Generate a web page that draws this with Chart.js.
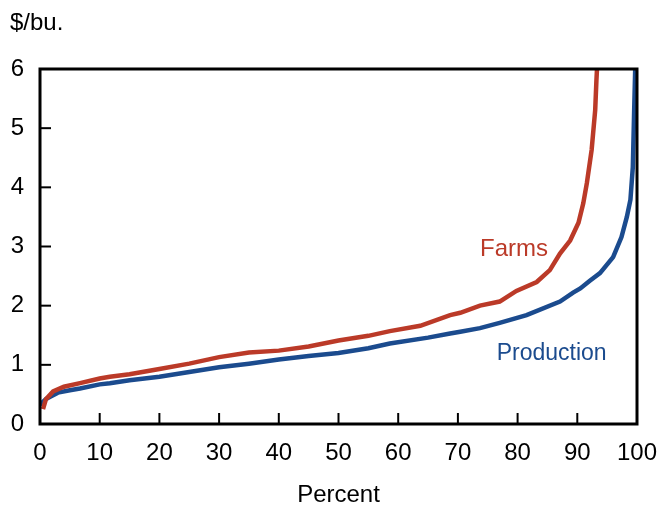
<!DOCTYPE html>
<html>
<head>
<meta charset="utf-8">
<script src="https://cdn.jsdelivr.net/npm/chart.js@4.4.0/dist/chart.umd.min.js"></script>
<style>
  html, body { margin: 0; padding: 0; background: #fff; }
  #wrap { width: 660px; height: 506px; position: relative; }
</style>
</head>
<body>
<div id="wrap"><canvas id="myChart" width="660" height="506"></canvas></div>
<script>
// ---------------- data ---------------- //
var farmsPct = [0.5, 1, 2.2, 4, 6.7, 10, 11.7, 15, 20, 25, 30, 35, 40, 45, 50, 55, 58.6, 63.7, 68.7, 70.4, 73.7, 77, 79.8, 83.2, 85.4, 87.1, 88.8, 90.2, 91, 91.6, 92.4, 93.0, 93.2, 93.3];
var farmsVal = [0.25, 0.42, 0.55, 0.63, 0.69, 0.77, 0.8, 0.84, 0.93, 1.02, 1.13, 1.21, 1.24, 1.31, 1.41, 1.49, 1.57, 1.66, 1.84, 1.88, 2.0, 2.07, 2.25, 2.4, 2.6, 2.88, 3.1, 3.4, 3.73, 4.07, 4.63, 5.31, 5.8, 6.0];

var prodPct = [0, 1, 1.7, 3, 5, 6.7, 10, 11.7, 15, 20, 25, 30, 35, 40, 45, 50, 55, 58.6, 65, 68.7, 70.4, 73.7, 77, 81.5, 87.1, 89.3, 90.5, 92.1, 93.8, 96, 97.4, 98.3, 98.9, 99.3, 99.5, 99.7];
var prodVal = [0.33, 0.42, 0.46, 0.53, 0.57, 0.6, 0.67, 0.69, 0.74, 0.8, 0.88, 0.96, 1.02, 1.09, 1.15, 1.2, 1.28, 1.36, 1.46, 1.53, 1.56, 1.62, 1.71, 1.84, 2.07, 2.22, 2.29, 2.42, 2.55, 2.82, 3.16, 3.5, 3.79, 4.34, 5.19, 6.0];

var xTicks = [0, 10, 20, 30, 40, 50, 60, 70, 80, 90, 100];
var yTicks = [0, 1, 2, 3, 4, 5, 6];

var RED = '#bb3a28';
var BLUE = '#1b4b8e';
var FONT = 'Liberation Sans, Arial, sans-serif';
var FSIZE = 24;

function pts(xs, ys) {
    return xs.map(function (x, i) { return { x: x, y: ys[i] }; });
}

// inside ticks, frame and text labels
var decor = {
    id: 'decor',
    afterDraw: function (chart) {
        var ctx = chart.ctx;
        var a = chart.chartArea;
        var xs = chart.scales.x, ys = chart.scales.y;
        ctx.save();
        ctx.strokeStyle = '#000';
        ctx.lineWidth = 2;
        xTicks.forEach(function (v) {
            var px = xs.getPixelForValue(v);
            ctx.beginPath(); ctx.moveTo(px, a.bottom); ctx.lineTo(px, a.bottom - 11); ctx.stroke();
        });
        yTicks.forEach(function (v) {
            var py = ys.getPixelForValue(v);
            ctx.beginPath(); ctx.moveTo(a.left, py); ctx.lineTo(a.left + 11, py); ctx.stroke();
        });
        ctx.lineWidth = 3;
        ctx.strokeRect(a.left, a.top, a.right - a.left, a.bottom - a.top);

        ctx.font = FSIZE + 'px ' + FONT;
        ctx.textBaseline = 'middle';
        ctx.textAlign = 'left';
        ctx.fillStyle = '#000';
        ctx.fillText('$/bu.', 10, 23);
        ctx.fillStyle = RED;
        ctx.fillText('Farms', xs.getPixelForValue(73.7), ys.getPixelForValue(2.95));
        ctx.fillStyle = BLUE;
        ctx.font = '23px ' + FONT;
        ctx.fillText('Production', xs.getPixelForValue(76.5), ys.getPixelForValue(1.19));
        ctx.restore();
    }
};

var ctx = document.getElementById('myChart').getContext('2d');
var chart = new Chart(ctx, {
    type: 'scatter',
    data: {
        datasets: [
            { label: 'Farms', data: pts(farmsPct, farmsVal), showLine: true, borderColor: RED, borderWidth: 4.5, pointRadius: 0, tension: 0 },
            { label: 'Production', data: pts(prodPct, prodVal), showLine: true, borderColor: BLUE, borderWidth: 4.5, pointRadius: 0, tension: 0 }
        ]
    },
    options: {
        responsive: false,
        animation: false,
        layout: { padding: { top: 69, right: 23, left: 0, bottom: 0 } },
        plugins: { legend: { display: false }, tooltip: { enabled: false } },
        scales: {
            x: {
                type: 'linear', min: 0, max: 100,
                grid: { display: false, drawTicks: false },
                border: { display: false },
                afterBuildTicks: function (s) { s.ticks = xTicks.map(function (v) { return { value: v }; }); },
                ticks: { color: '#000', font: { family: FONT, size: FSIZE }, padding: 15, maxRotation: 0 },
                title: { display: true, text: 'Percent', color: '#000', font: { family: FONT, size: FSIZE, lineHeight: 0.9 }, padding: { top: 16, bottom: 0 } },
                afterFit: function (s) { s.height = 82; s.paddingLeft = 0; s.paddingRight = 0; }
            },
            y: {
                type: 'linear', min: 0, max: 6,
                grid: { display: false, drawTicks: false },
                border: { display: false },
                afterBuildTicks: function (s) { s.ticks = yTicks.map(function (v) { return { value: v }; }); },
                ticks: { color: '#000', font: { family: FONT, size: FSIZE }, padding: 16 },
                afterFit: function (s) { s.width = 40; }
            }
        }
    },
    plugins: [decor]
});
</script>
</body>
</html>
